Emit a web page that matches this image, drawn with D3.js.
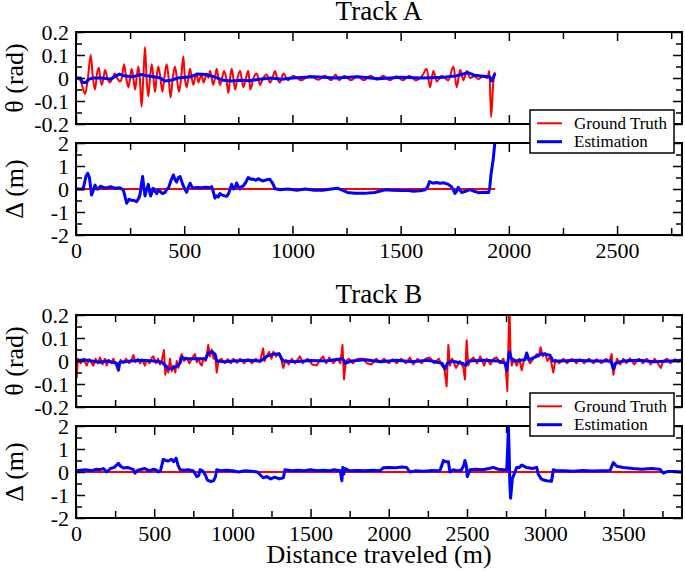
<!DOCTYPE html>
<html><head><meta charset="utf-8">
<script src="https://cdn.jsdelivr.net/npm/d3@7"></script>
<style>body{margin:0;background:#fff}svg{display:block}svg text{font-family:"Liberation Serif","Times New Roman",Times,"DejaVu Serif","Noto Serif",serif !important}</style>
</head><body>
<script>
// ---------- DATA ----------
const titles = ["Track A", "Track B"];
const seriesNames = ["Ground Truth", "Estimation"];
const xDomainA = [0, 2800];
const xDomainB = [0, 3875];
const xTicksA = [0, 500, 1000, 1500, 2000, 2500];
const xTicksB = [0, 500, 1000, 1500, 2000, 2500, 3000, 3500];
const thetaDomain = [-0.2, 0.2];
const thetaTicks = [0.2, 0.1, 0, -0.1, -0.2];
const thetaTickLabels = ["0.2", "0.1", "0", "-0.1", "-0.2"];
const deltaDomain = [-2, 2];
const deltaTicks = [2, 1, 0, -1, -2];
const deltaTickLabels = ["2", "1", "0", "-1", "-2"];
const xLabel = "Distance traveled (m)";
const thetaLabel = "θ (rad)";
const deltaLabel = "Δ (m)";

// Track A heading: ground truth [m, rad]
const thetaTruthA = [[0,0],[20,-0.01],[42,-0.07],[55,0.0],[68,0.10],[78,0.0],[88,-0.05],[97,0.02],[106,0.045],[112,0],[119,-0.03],[127,0.0],[134,0.035],[145,0],[157,-0.02],[168,0.0],[180,0.02],[190,0],[203,-0.015],[212,0],[222,0.06],[232,0],[242,-0.04],[250,0],[257,0.04],[265,0],[273,-0.05],[280,0],[288,0.05],[295,0],[303,-0.125],[311,0],[319,0.135],[326,0],[334,-0.08],[342,0],[350,0.06],[358,0],[365,-0.06],[372,0],[380,0.05],[390,0],[399,-0.06],[408,0],[419,0.06],[428,0],[437,-0.085],[447,0],[457,0.05],[466,0],[476,-0.06],[486,0],[496,0.095],[503,0],[511,-0.04],[519,0],[527,0.04],[535,0],[542,-0.03],[550,0],[558,0.02],[565,-0.02],[573,0],[581,0.015],[589,-0.02],[597,0],[604,0.02],[612,0],[619,0.03],[627,0],[634,-0.03],[642,0],[650,0.04],[658,0],[665,-0.03],[675,0],[684,0.03],[694,0],[704,-0.065],[712,0],[719,0.04],[727,0],[735,-0.05],[746,0],[758,0.03],[765,0],[773,-0.04],[785,0],[796,0.03],[800,0],[806,-0.05],[820,0],[835,0.02],[842,0],[850,-0.03],[865,0],[881,0.015],[888,0],[896,-0.02],[908,0],[919,0.03],[930,0],[942,-0.02],[950,0],[958,0.02],[980,-0.01],[1004,0.01],[1040,-0.01],[1081,0.01],[1120,-0.008],[1150,0.01],[1180,-0.01],[1200,0.015],[1215,-0.01],[1240,0.01],[1270,-0.01],[1300,0.008],[1330,-0.01],[1360,0.01],[1390,-0.008],[1420,0.01],[1450,-0.01],[1480,0.008],[1510,-0.01],[1540,0.01],[1570,-0.01],[1600,0.01],[1620,0.04],[1636,-0.04],[1651,0.03],[1667,-0.015],[1690,0.01],[1720,-0.01],[1744,0.05],[1759,-0.04],[1775,0.036],[1790,-0.01],[1805,0.03],[1821,0],[1840,0.008],[1860,-0.005],[1880,0.008],[1900,0],[1910,0.03],[1918,-0.17],[1928,-0.02],[1936,0.025]];
// Track A heading: estimation
const thetaEstA = [[0,0],[20,0],[30,-0.02],[45,-0.02],[60,-0.005],[80,0],[120,0],[160,-0.005],[200,0.017],[220,0.01],[260,0.005],[300,0.015],[330,0.01],[360,0.005],[390,0],[410,-0.013],[440,-0.01],[470,0],[530,0.005],[560,0.017],[600,0.015],[640,0.005],[680,-0.01],[720,-0.013],[760,-0.01],[800,-0.012],[850,-0.005],[900,0],[950,-0.005],[1000,0],[1100,0.005],[1200,0],[1300,0.005],[1400,-0.003],[1500,0.003],[1600,0],[1700,0.003],[1760,0.01],[1790,0.018],[1812,0.023],[1840,0.012],[1880,0.008],[1910,0.005],[1921,-0.013],[1936,0.02]];
// Track A position error
const deltaTruthA = [[0,0],[1936,0]];
const deltaEstA = [[0,0],[33,0],[46,0.55],[54,0.68],[62,0.5],[72,-0.26],[80,-0.05],[88,0.17],[96,0.0],[103,0.0],[112,0.12],[119,0.1],[130,0.05],[142,0.05],[160,0.1],[180,0.03],[203,0.05],[219,-0.05],[234,-0.62],[245,-0.45],[257,-0.49],[268,-0.5],[280,-0.55],[290,-0.4],[296,-0.23],[302,0.2],[308,0.54],[313,0.1],[319,-0.3],[327,0.0],[334,0.2],[340,-0.1],[345,-0.3],[357,0.03],[365,-0.1],[373,-0.2],[380,-0.05],[388,-0.1],[400,-0.2],[411,-0.15],[420,0.0],[427,0.03],[440,0.4],[450,0.61],[458,0.4],[465,0.3],[473,0.5],[481,0.54],[493,0.2],[503,0.0],[511,-0.14],[520,0.1],[527,0.25],[535,0.1],[542,0.04],[560,0.07],[580,0.05],[600,0.08],[619,0.05],[627,0.1],[634,-0.1],[642,-0.4],[650,-0.3],[658,-0.34],[665,-0.2],[673,-0.25],[685,-0.3],[696,-0.32],[705,-0.2],[719,0.2],[727,0.0],[735,0.05],[742,0.26],[750,0.1],[758,0.0],[765,0.1],[773,0.13],[785,0.3],[796,0.5],[808,0.42],[819,0.43],[830,0.38],[842,0.45],[855,0.38],[865,0.35],[880,0.4],[896,0.42],[905,0.3],[911,0.2],[920,0.0],[927,0.0],[942,-0.03],[980,0.0],[1020,-0.05],[1060,0.0],[1100,-0.05],[1140,-0.05],[1180,0.0],[1210,0.03],[1230,-0.05],[1254,-0.15],[1290,-0.18],[1330,-0.19],[1380,-0.15],[1428,-0.03],[1460,-0.05],[1500,-0.07],[1530,-0.06],[1559,-0.1],[1590,-0.08],[1613,-0.03],[1625,0.1],[1633,0.32],[1650,0.25],[1665,0.28],[1682,0.25],[1700,0.27],[1720,0.2],[1735,0.1],[1751,-0.19],[1758,-0.1],[1766,0.07],[1774,-0.05],[1782,-0.15],[1800,-0.1],[1820,-0.03],[1840,-0.1],[1860,-0.16],[1880,-0.14],[1907,-0.15],[1912,0.1],[1918,0.68],[1928,1.3],[1936,2.1],[1945,3]];

// Track B heading: ground truth
const thetaTruthB = [[0,0],[5,-0.07],[12,0.01],[30,-0.01],[50,0.01],[68,-0.02],[85,0.008],[100,-0.01],[111,-0.02],[125,0.01],[140,-0.01],[153,0.015],[170,-0.015],[185,0.01],[196,-0.02],[210,0.005],[225,-0.01],[239,0.01],[255,-0.015],[271,-0.04],[285,0.005],[303,-0.01],[320,0.01],[340,-0.01],[355,0.005],[367,0.026],[380,-0.005],[395,0.01],[409,-0.01],[425,0.005],[440,-0.02],[452,0.005],[470,-0.01],[485,0.015],[495,0.02],[510,-0.01],[525,0.01],[537,-0.015],[550,0.005],[562,0.048],[571,-0.06],[580,-0.02],[590,-0.05],[601,0.01],[612,-0.045],[622,-0.02],[635,-0.05],[644,0.0],[655,-0.03],[665,0.01],[676,0.03],[690,0.0],[708,0.015],[725,-0.01],[740,0.01],[761,0.03],[772,-0.005],[785,0.01],[793,-0.01],[804,-0.02],[815,0.01],[830,0.0],[846,0.07],[856,0.02],[868,0.05],[880,0.01],[889,0.03],[900,-0.05],[910,0.0],[930,0.01],[950,-0.01],[970,0.008],[990,-0.01],[1006,0.01],[1030,-0.008],[1050,0.01],[1075,-0.01],[1100,0.008],[1125,-0.01],[1150,0.01],[1175,-0.005],[1197,0.055],[1205,0.0],[1219,0.02],[1235,0.04],[1250,0.01],[1262,0.04],[1280,0.02],[1300,0.035],[1315,0.0],[1326,-0.03],[1340,0.005],[1360,-0.015],[1380,0.01],[1400,-0.01],[1432,0.02],[1450,-0.01],[1480,0.01],[1510,-0.015],[1539,-0.02],[1560,0.005],[1580,0.02],[1600,-0.01],[1620,0.015],[1645,-0.01],[1670,0.01],[1690,-0.01],[1704,0.07],[1714,-0.08],[1725,0.0],[1745,0.01],[1770,-0.01],[1800,0.01],[1837,0.01],[1860,-0.01],[1890,-0.015],[1920,0.01],[1944,-0.005],[1970,0.01],[2000,-0.01],[2025,0.008],[2050,-0.01],[2080,0.01],[2110,-0.01],[2135,0.015],[2157,-0.015],[2185,0.01],[2210,-0.01],[2235,0.01],[2263,0.015],[2290,-0.01],[2320,0.01],[2340,-0.02],[2355,-0.03],[2370,-0.11],[2381,0.07],[2391,-0.02],[2405,0.01],[2430,-0.03],[2455,0.0],[2477,-0.03],[2487,-0.08],[2498,0.09],[2508,-0.02],[2525,0.005],[2541,0.015],[2565,-0.01],[2585,0.02],[2610,-0.02],[2626,0.01],[2650,-0.015],[2670,0.01],[2690,0.015],[2710,-0.01],[2733,0.01],[2745,-0.02],[2750,-0.05],[2758,-0.13],[2766,0.1],[2771,0.26],[2778,0.05],[2786,-0.02],[2800,0.01],[2818,-0.02],[2835,0.01],[2850,-0.04],[2865,0.005],[2882,0.02],[2903,-0.01],[2925,0.01],[2946,0.03],[2960,0.02],[2971,0.06],[2985,0.02],[2999,0.035],[3015,0.0],[3031,0.02],[3052,-0.05],[3065,0.005],[3090,-0.01],[3116,0.01],[3140,-0.01],[3170,0.01],[3200,-0.01],[3223,0.008],[3250,-0.01],[3280,0.01],[3310,-0.01],[3329,0.008],[3360,-0.01],[3390,0.01],[3410,-0.005],[3425,0.03],[3436,-0.06],[3448,-0.02],[3460,0.01],[3480,-0.015],[3500,0.01],[3520,-0.01],[3542,0.012],[3570,-0.015],[3600,0.01],[3625,-0.01],[3649,0.01],[3675,-0.015],[3700,0.01],[3720,-0.01],[3740,-0.03],[3755,0.0],[3780,0.01],[3800,-0.01],[3830,0.008],[3850,-0.005],[3875,0.005]];
// Track B heading: estimation
const thetaEstB = [[0,0],[50,0.005],[100,0],[150,-0.005],[200,0],[260,-0.01],[271,-0.04],[280,-0.005],[350,0],[420,0.003],[500,0],[550,-0.005],[570,-0.02],[590,-0.035],[620,-0.03],[650,-0.02],[665,-0.01],[676,0.015],[700,0.01],[760,0.01],[800,0.01],[830,0.01],[846,0.035],[870,0.04],[889,0.03],[900,0],[950,-0.003],[1000,0],[1100,0.003],[1180,0],[1219,0.02],[1262,0.03],[1300,0.03],[1315,0.01],[1326,0],[1400,-0.003],[1500,0.002],[1600,0],[1700,0.01],[1710,0.005],[1720,-0.01],[1760,0],[1850,0.005],[1950,-0.003],[2050,0.003],[2150,-0.003],[2250,0.003],[2340,-0.01],[2359,-0.035],[2375,-0.01],[2400,0],[2470,-0.01],[2490,-0.02],[2510,0],[2600,0.003],[2700,0],[2745,-0.01],[2755,-0.04],[2770,0.04],[2785,0.01],[2800,0],[2870,0.005],[2882,0.035],[2895,0.005],[2946,0.02],[2970,0.03],[3000,0.03],[3031,0.025],[3050,0],[3100,0],[3200,0.003],[3300,0],[3420,0],[3436,-0.035],[3450,-0.01],[3500,0],[3600,0.003],[3700,-0.003],[3800,0],[3875,0.003]];
// Track B position error
const deltaTruthB = [[0,0],[3860,0]];
const deltaEstB = [[0,0.05],[26,0.08],[60,0.1],[100,0.05],[130,0.12],[153,0.1],[175,0.15],[196,0.0],[220,0.15],[245,0.2],[271,0.38],[285,0.25],[303,0.17],[330,0.2],[350,0.15],[367,0.1],[377,-0.05],[395,0.08],[409,0.1],[440,0.15],[470,0.05],[495,0.12],[516,0.08],[526,0.0],[540,0.05],[558,0.55],[575,0.5],[590,0.48],[610,0.55],[625,0.45],[640,0.6],[652,0.3],[665,0.1],[690,0.08],[720,0.1],[750,0.05],[772,-0.2],[785,-0.15],[793,0.1],[810,0.05],[825,-0.1],[840,-0.35],[860,-0.41],[880,-0.38],[892,-0.2],[900,0.1],[930,0.05],[960,0.08],[1000,0.05],[1040,0.0],[1080,0.05],[1120,0.03],[1160,0.0],[1197,-0.25],[1220,-0.2],[1245,-0.3],[1270,-0.22],[1300,-0.3],[1326,-0.25],[1336,0.1],[1380,0.05],[1420,0.08],[1460,0.05],[1500,0.1],[1540,0.05],[1580,0.08],[1620,0.05],[1650,0.1],[1690,0.05],[1700,-0.38],[1706,0.2],[1712,-0.1],[1720,0.15],[1750,0.05],[1800,0.07],[1850,0.05],[1900,0.08],[1944,0.05],[1965,0.18],[2000,0.2],[2040,0.18],[2080,0.22],[2114,0.2],[2135,0.0],[2170,0.05],[2220,0.03],[2270,0.06],[2327,0.05],[2340,0.3],[2349,0.5],[2365,0.45],[2381,0.45],[2391,0.0],[2413,0.1],[2440,0.05],[2466,0.1],[2480,0.3],[2487,0.5],[2495,0.3],[2502,-0.2],[2519,0.1],[2560,0.12],[2600,0.1],[2640,0.15],[2668,0.2],[2700,0.12],[2733,0.1],[2754,0.09],[2760,1.0],[2765,1.97],[2770,0.8],[2774,-0.5],[2779,-1.14],[2790,-0.3],[2807,0.0],[2818,0.2],[2835,0.2],[2850,0.3],[2880,0.2],[2920,0.15],[2946,0.2],[2956,-0.1],[2975,-0.3],[2990,-0.35],[3010,-0.38],[3041,-0.4],[3052,0.1],[3073,0.05],[3120,0.05],[3180,0.03],[3240,0.06],[3300,0.04],[3360,0.05],[3414,0.05],[3436,0.41],[3457,0.25],[3500,0.2],[3560,0.15],[3620,0.12],[3680,0.15],[3734,0.12],[3755,-0.05],[3780,0.02],[3830,0.02],[3875,0.0]];

// ---------- DRAW ----------
const W = 685, H = 571, L = 76, R = 682;
const RED = "#ff0000", BLUE = "#0000ff";
const FONT = '"Liberation Serif","Times New Roman",Times,"DejaVu Serif","Noto Serif",serif';
const svg = d3.select("body").append("svg").attr("width", W).attr("height", H)
  .style("font-family", FONT);
let clipId = 0;

function drawPanel(top, bottom, xDomain, xMajor, showXLabels, yDomain, yMajor, yLabels, yMinorStep, truth, est, yLabel, smoothTruth) {
  const x = d3.scaleLinear().domain(xDomain).range([L, R]);
  const y = d3.scaleLinear().domain(yDomain).range([bottom, top]);
  const xMinor = d3.range(xDomain[0], xDomain[1] + 1e-9, 250).filter(v => !xMajor.includes(v));
  const yMinor = d3.range(yDomain[0], yDomain[1] + 1e-9, yMinorStep).map(v => +v.toFixed(4)).filter(v => !yMajor.some(m => Math.abs(m - v) < 1e-9));
  const g = svg.append("g");
  const id = "clip" + (clipId++);
  g.append("clipPath").attr("id", id).append("rect")
    .attr("x", L).attr("y", top).attr("width", R - L).attr("height", bottom - top);
  const plot = g.append("g").attr("clip-path", `url(#${id})`);
  const lineT = d3.line().x(d => x(d[0])).y(d => y(d[1])).curve(smoothTruth ? d3.curveMonotoneX : d3.curveLinear);
  const lineE = d3.line().x(d => x(d[0])).y(d => y(d[1]));
  plot.append("path").datum(truth).attr("d", lineT).attr("fill", "none").attr("stroke", RED).attr("stroke-width", 2).attr("stroke-linejoin", "round");
  plot.append("path").datum(est).attr("d", lineE).attr("fill", "none").attr("stroke", BLUE).attr("stroke-width", 3).attr("stroke-linejoin", "round");

  const styleAxis = sel => { sel.attr("font-family", FONT); sel.select(".domain").remove(); sel.selectAll("line").attr("stroke", "#000").attr("stroke-width", 1.5); };
  // bottom
  const ab = g.append("g").attr("transform", `translate(0,${bottom})`)
    .call(d3.axisBottom(x).tickValues(xMajor).tickSize(-9).tickPadding(7).tickFormat(showXLabels ? d3.format("d") : () => ""));
  styleAxis(ab);
  ab.selectAll("text").attr("font-size", 22).attr("fill", "#000");
  styleAxis(g.append("g").attr("transform", `translate(0,${bottom})`).call(d3.axisBottom(x).tickValues(xMinor).tickSize(-7).tickFormat(() => "")));
  // top
  styleAxis(g.append("g").attr("transform", `translate(0,${top})`).call(d3.axisTop(x).tickValues(xMajor).tickSize(-9).tickFormat(() => "")));
  styleAxis(g.append("g").attr("transform", `translate(0,${top})`).call(d3.axisTop(x).tickValues(xMinor).tickSize(-7).tickFormat(() => "")));
  // left
  const al = g.append("g").attr("transform", `translate(${L},0)`)
    .call(d3.axisLeft(y).tickValues(yMajor).tickSize(-9).tickPadding(7).tickFormat((d, i) => yLabels[i]));
  styleAxis(al);
  al.selectAll("text").attr("font-size", 22).attr("fill", "#000");
  styleAxis(g.append("g").attr("transform", `translate(${L},0)`).call(d3.axisLeft(y).tickValues(yMinor).tickSize(-6).tickFormat(() => "")));
  // right
  styleAxis(g.append("g").attr("transform", `translate(${R},0)`).call(d3.axisRight(y).tickValues(yMajor).tickSize(-9).tickFormat(() => "")));
  styleAxis(g.append("g").attr("transform", `translate(${R},0)`).call(d3.axisRight(y).tickValues(yMinor).tickSize(-6).tickFormat(() => "")));
  // frame
  g.append("rect").attr("x", L).attr("y", top).attr("width", R - L).attr("height", bottom - top)
    .attr("fill", "none").attr("stroke", "#000").attr("stroke-width", 2);
  // y label
  g.append("text").attr("transform", `translate(23,${(top + bottom) / 2}) rotate(-90)`)
    .attr("text-anchor", "middle").attr("font-size", 26).text(yLabel);
}

function drawLegend(top) {
  const g = svg.append("g");
  g.append("rect").attr("x", 530).attr("y", top).attr("width", 144).attr("height", 43)
    .attr("fill", "#fff").attr("stroke", "#000").attr("stroke-width", 1.5);
  [RED, BLUE].forEach((c, i) => {
    const yy = top + 13.3 + i * 18.4;
    g.append("line").attr("x1", 537).attr("x2", 562).attr("y1", yy).attr("y2", yy)
      .attr("stroke", c).attr("stroke-width", i === 0 ? 2 : 3);
    g.append("text").attr("x", 574).attr("y", yy + 5.5).attr("font-size", 17).text(seriesNames[i]);
  });
}

function drawTrack(offset, title, xDomain, xTicks, thTruth, thEst, dTruth, dEst, smooth) {
  svg.append("text").attr("x", 379).attr("y", 20 + offset).attr("text-anchor", "middle")
    .attr("font-size", 27).text(title);
  drawPanel(32 + offset, 124 + offset, xDomain, xTicks, false, thetaDomain, thetaTicks, thetaTickLabels, 0.05, thTruth, thEst, thetaLabel, smooth);
  drawPanel(143 + offset, 235 + offset, xDomain, xTicks, true, deltaDomain, deltaTicks, deltaTickLabels, 0.5, dTruth, dEst, deltaLabel, false);
  drawLegend(110 + offset);
}

drawTrack(0, titles[0], xDomainA, xTicksA, thetaTruthA, thetaEstA, deltaTruthA, deltaEstA, true);
drawTrack(283, titles[1], xDomainB, xTicksB, thetaTruthB, thetaEstB, deltaTruthB, deltaEstB, false);

svg.append("text").attr("x", 379).attr("y", 563).attr("text-anchor", "middle")
  .attr("font-size", 26).text(xLabel);
</script>
</body></html>
